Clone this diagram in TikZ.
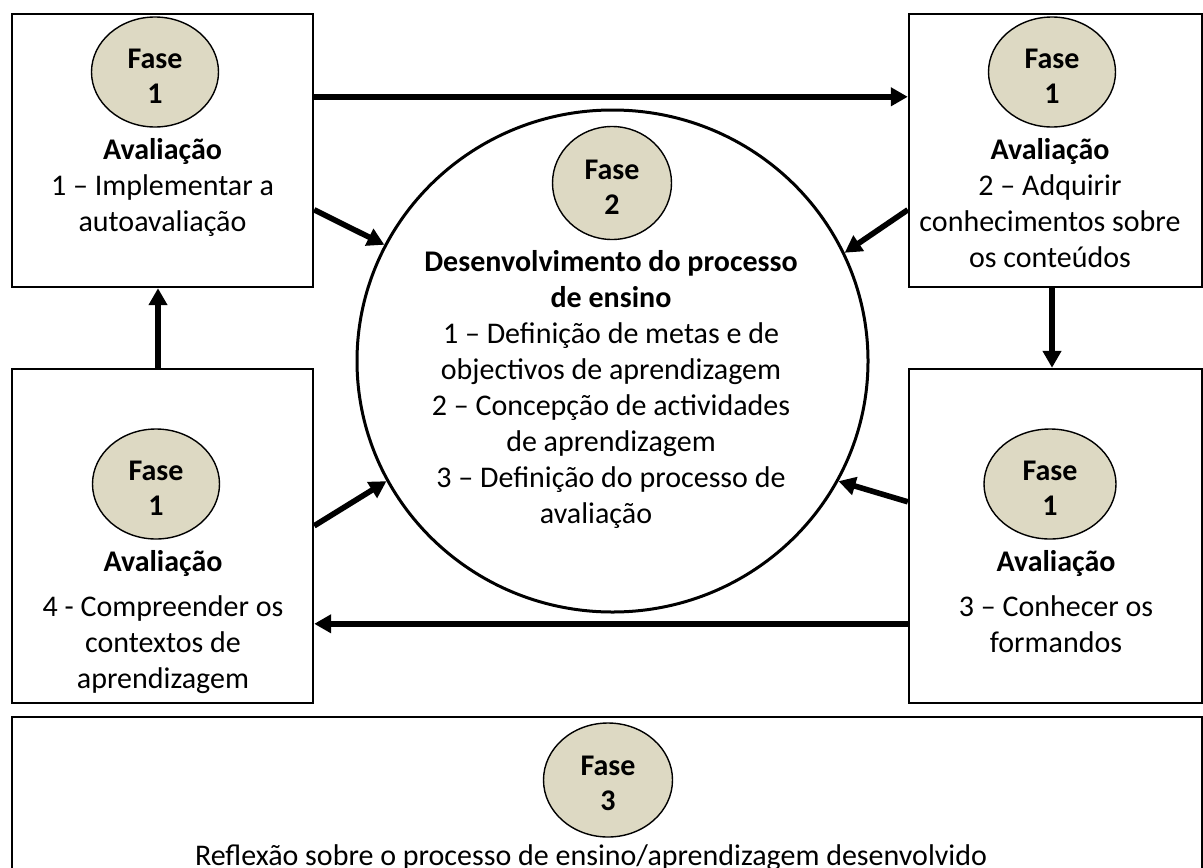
\documentclass[tikz,border=0pt]{standalone}
\usepackage{fontspec}
\setmainfont{Carlito}
\usetikzlibrary{shapes.geometric,arrows.meta,calc}
\definecolor{fasefill}{HTML}{DDD9C3}
\newcommand{\Tstrut}{\rule{0pt}{12pt}}
\newcommand{\Fstrut}{\rule{0pt}{13.5pt}}
\begin{document}
\begin{tikzpicture}[x=0.5pt,y=-0.5pt,
  box/.style={draw, line width=1.2pt, inner sep=0pt},
  fase/.style={ellipse, draw, line width=0.7pt, fill=fasefill, inner sep=0pt,
    align=center, font=\bfseries\fontsize{15pt}{17.5pt}\selectfont},
  txt/.style={align=center, anchor=north, inner sep=0pt,
    font=\fontsize{15pt}{18pt}\selectfont},
  arr/.style={line width=2.8pt, -{Triangle[length=8.5pt,width=9pt]}},
  bigc/.style={ellipse, draw, line width=1.5pt, inner sep=0pt}
]
\useasboundingbox[fill=white] (0,0) rectangle (1203,867);

% boxes
\node[box, minimum width=150.5pt, minimum height=136.5pt] (tl) at (162.5,150.5) {};
\node[box, minimum width=146.5pt, minimum height=136.5pt] (tr) at (1055.5,150.5) {};
\node[box, minimum width=150.5pt, minimum height=167pt] (bl) at (162.5,536) {};
\node[box, minimum width=146.5pt, minimum height=167pt] (br) at (1055.5,536) {};
\node[box, minimum width=595pt, minimum height=91.5pt] (bot) at (607,808.5) {};

% big circle
\node[bigc, minimum width=255.5pt, minimum height=251pt] (big) at (612.5,361) {};

% fase ellipses
\node[fase, minimum width=63.5pt, minimum height=55pt] (f1a) at (155,72) {\Fstrut Fase\\1};
\node[fase, minimum width=63.5pt, minimum height=55pt] (f1b) at (1052,72) {\Fstrut Fase\\1};
\node[fase, minimum width=63.5pt, minimum height=55pt] (f1c) at (156,484) {\Fstrut Fase\\1};
\node[fase, minimum width=66pt, minimum height=55pt] (f1d) at (1050,484) {\Fstrut Fase\\1};
\node[fase, minimum width=59.5pt, minimum height=56.5pt] (f2) at (612,183) {\Fstrut Fase\\2};
\node[fase, minimum width=64.5pt, minimum height=57pt] (f3) at (608,780) {\Fstrut Fase\\3};

% texts
\node[txt] (tlt) at (162.5,135) {\Tstrut\textbf{Avaliação}\\1 – Implementar a\\autoavaliação};
\node[txt] (trt) at (1050,135) {\Tstrut\textbf{Avaliação}\\2 – Adquirir\\conhecimentos sobre\\os conteúdos};
\node[txt] (blt) at (163,547) {\Tstrut\textbf{Avaliação}\\[4.5pt]4 - Compreender os\\contextos de\\aprendizagem};
\node[txt] (brt) at (1056,547) {\Tstrut\textbf{Avaliação}\\[4.5pt]3 – Conhecer os\\formandos};
\node[txt] (bigt) at (611,247) {\Tstrut\textbf{Desenvolvimento do processo}\\\textbf{de ensino}\hspace*{6pt}\\1 – Definição de metas e de\\objectivos de aprendizagem\\2 – Concepção de actividades\\de aprendizagem\hspace*{24pt}\\3 – Definição do processo de\\avaliação\hspace*{15pt}};
\node[anchor=base, inner sep=0pt, font=\fontsize{15pt}{18pt}\selectfont] (bott) at (591,865) {Reflexão sobre o processo de ensino/aprendizagem desenvolvido};

% connectors
\draw[arr] ([yshift=-42pt]tl.north east) -- ([yshift=-42pt]tr.north west);
\draw[arr] ([yshift=-98.5pt]tl.north east) -- (big.153);
\draw[arr] ([yshift=-98.5pt]tr.north west) -- (big.25.6);
\draw[arr] ([xshift=-1.75pt]tr.south) -- ([xshift=-1.75pt]br.north);
\draw[arr] ([yshift=-67pt]br.north west) -- (big.332.6);
\draw[arr] ([yshift=-128pt]br.north west) -- ([yshift=-128pt]bl.north east);
\draw[arr] ([yshift=-79pt]bl.north east) -- (big.208.5);
\draw[arr] ([xshift=-2.25pt]bl.north) -- ([xshift=-2.25pt]tl.south);
\end{tikzpicture}
\end{document}
